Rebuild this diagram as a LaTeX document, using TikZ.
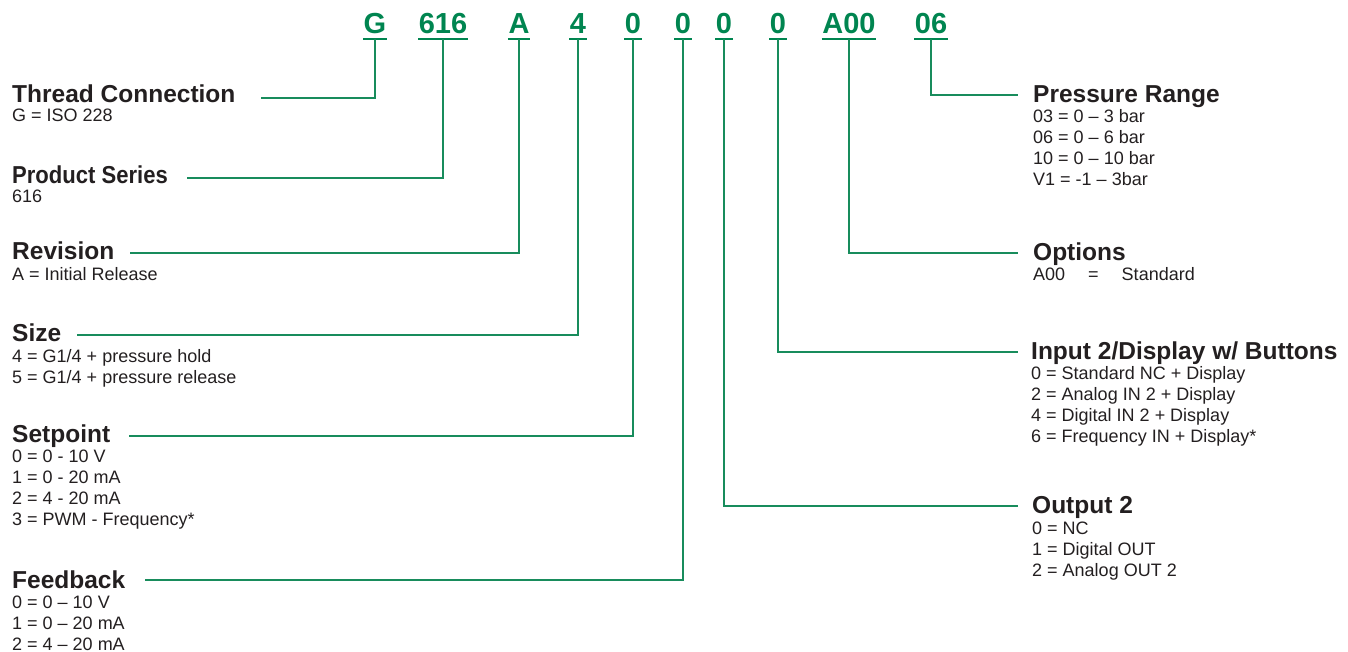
\documentclass[tikz,border=0pt]{standalone}
\usepackage{fontspec}
\setmainfont{Liberation Sans}
\definecolor{codegreen}{RGB}{0,133,80}
\definecolor{linegreen}{RGB}{24,140,92}
\definecolor{txt}{RGB}{35,31,32}

\begin{document}
\begin{tikzpicture}[x=1pt, y=-1pt,
    code/.style={font=\fontsize{29}{29}\selectfont\bfseries, text=codegreen, inner xsep=0.5pt, inner ysep=0pt, text depth=4.5pt, anchor=base},
    ttl/.style={font=\fontsize{24.5}{26}\selectfont\bfseries, text=txt, inner sep=0pt, anchor=base west},
    desc/.style={font=\fontsize{18}{21}\selectfont, text=txt, inner sep=0pt, anchor=base west, align=left},
    lead/.style={draw=linegreen, line width=1.6pt}]
  \useasboundingbox (0,0) rectangle (1348,652);

  % ordering code
  \foreach \v/\x [count=\i] in {G/375, 616/443, A/519, 4/578, 0/633, 0/683, 0/724, 0/778, A00/849, 06/931} {
    \node[code] (c\i) at (\x,34) {\v};
    \draw[draw=codegreen, line width=2pt] (c\i.south west) -- (c\i.south east);
  }

  % left side (desc nodes sit on their last line)
  \node[ttl] (t-thread) at (12,103) {Thread Connection};
  \node[desc] (d-thread) at (12,122) {G = ISO 228};
  \node[ttl] (t-series) at (12,184) {\scalebox{0.9}[1]{Product Series}};
  \node[desc] (d-series) at (12,203) {616};
  \node[ttl] (t-rev) at (12,259) {Revision};
  \node[desc] (d-rev) at (12,280) {A = Initial Release};
  \node[ttl] (t-size) at (12,341) {Size};
  \node[desc] (d-size) at (12,383) {4 = G1/4 + pressure hold\\5 = G1/4 + pressure release};
  \node[ttl] (t-set) at (12,442) {Setpoint};
  \node[desc] (d-set) at (12,525) {0 = 0 - 10 V\\1 = 0 - 20 mA\\2 = 4 - 20 mA\\3 = PWM - Frequency*};
  \node[ttl] (t-fb) at (12,588) {Feedback};
  \node[desc] (d-fb) at (12,650) {0 = 0 -- 10 V\\1 = 0 -- 20 mA\\2 = 4 -- 20 mA};

  % right side
  \node[ttl] (t-range) at (1033,103) {Pressure Range};
  \node[desc] (d-range) at (1033,186) {03 = 0 -- 3 bar\\06 = 0 -- 6 bar\\10 = 0 -- 10 bar\\V1 = -1 -- 3bar};
  \node[ttl] (t-opt) at (1033,260) {Options};
  \node[desc] (d-opt) at (1033,280) {A00 \quad= \quad Standard};
  \node[ttl] (t-in) at (1031,359) {Input 2/Display w/ Buttons};
  \node[desc] (d-in) at (1031,442) {0 = Standard NC + Display\\2 = Analog IN 2 + Display\\4 = Digital IN 2 + Display\\6 = Frequency IN + Display*};
  \node[ttl] (t-out) at (1032,513) {Output 2};
  \node[desc] (d-out) at (1032,576) {0 = NC\\1 = Digital OUT\\2 = Analog OUT 2};

  % leader ends
  \coordinate (e1) at (261,98);
  \coordinate (e2) at (187,178);
  \coordinate (e3) at (130,253);
  \coordinate (e4) at (77,335);
  \coordinate (e5) at (129,436);
  \coordinate (e6) at (145,580);
  \coordinate (e7) at (1018,506);
  \coordinate (e8) at (1018,352);
  \coordinate (e9) at (1018,253);
  \coordinate (e10) at (1018,95);

  \foreach \i in {1,...,10}
    \draw[lead] (c\i.south) |- (e\i);
\end{tikzpicture}
\end{document}
